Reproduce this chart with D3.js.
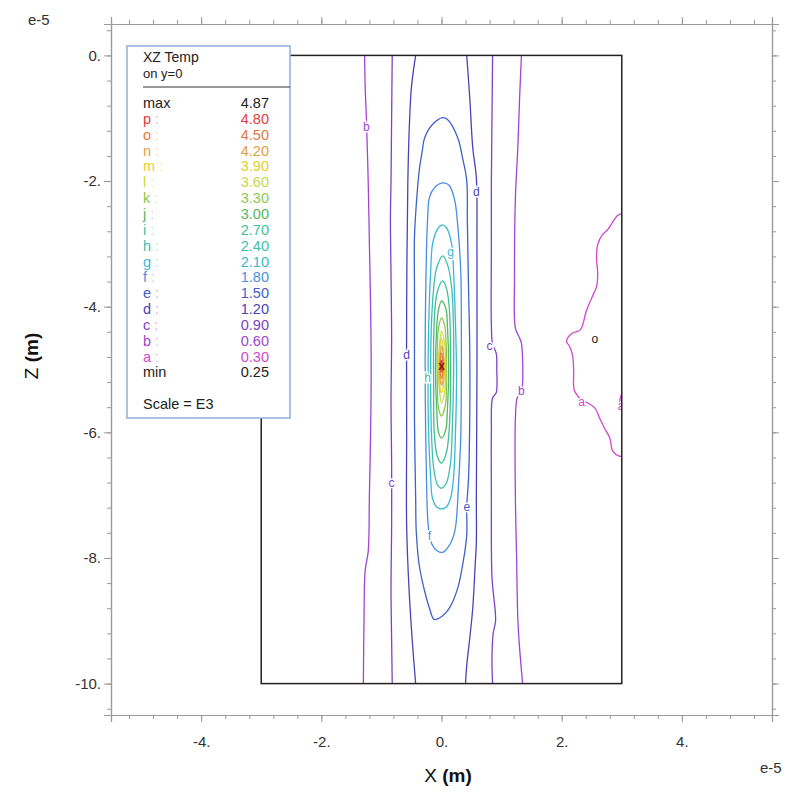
<!DOCTYPE html>
<html><head><meta charset="utf-8">
<script src="https://cdn.jsdelivr.net/npm/d3@7"></script>
<style>
body{margin:0;background:#fff}
text{font-family:"Liberation Sans",Arial,sans-serif}
</style>
</head><body>
<svg id="chart" width="787" height="803"></svg>
<script>
// ---------- data (x, z in units of e-5 m) ----------
const levelKeys   = ["p","o","n","m","l","k","j","i","h","g","f","e","d","c","b","a"];
const levelValues = [4.80,4.50,4.20,3.90,3.60,3.30,3.00,2.70,2.40,2.10,1.80,1.50,1.20,0.90,0.60,0.30];
const maxValue = 4.87, minValue = 0.25;
const xMajorTicks = [-4,-2,0,2,4];
const xTickLabels = ["-4.","-2.","0.","2.","4."];
const zMajorTicks = [0,-2,-4,-6,-8,-10];
const zTickLabels = ["0.","-2.","-4.","-6.","-8.","-10."];
const domainBox = [[-3,0],[3,-10]];

// open contour lines (a..d)
const bLeft  = [[-1.28,0],[-1.27,-0.5],[-1.25,-1],[-1.22,-2],[-1.20,-3],[-1.18,-4],[-1.17,-5],[-1.18,-6],[-1.20,-7],[-1.22,-7.9],[-1.27,-8.2],[-1.29,-9],[-1.30,-10]];
const cLeft  = [[-0.82,0],[-0.83,-1],[-0.84,-2],[-0.85,-2.6],[-0.84,-3.5],[-0.83,-4.5],[-0.84,-5.5],[-0.83,-6.5],[-0.83,-7.5],[-0.84,-8.5],[-0.83,-9.3],[-0.82,-10]];
const dLeft  = [[-0.43,0],[-0.50,-0.5],[-0.53,-1],[-0.56,-2],[-0.58,-4],[-0.58,-6],[-0.58,-7.5],[-0.54,-8.5],[-0.48,-9.4],[-0.43,-10]];
const dRight = [[0.42,0],[0.47,-0.67],[0.52,-1.47],[0.58,-1.95],[0.59,-3],[0.59,-5],[0.58,-7.05],[0.58,-7.74],[0.56,-8.12],[0.52,-8.8],[0.47,-9.28],[0.42,-9.71],[0.40,-10]];
const cRight = [[0.85,0],[0.84,-1],[0.83,-2],[0.83,-3],[0.83,-4.3],[0.85,-4.6],[0.91,-4.74],[0.92,-5.0],[0.91,-5.37],[0.85,-5.45],[0.83,-6],[0.83,-7],[0.84,-8.3],[0.90,-9.0],[0.86,-9.2],[0.84,-9.6],[0.85,-10]];
const bRight = [[1.33,0],[1.30,-0.67],[1.27,-1.47],[1.23,-2.26],[1.215,-3.54],[1.23,-4.34],[1.30,-4.5],[1.33,-4.58],[1.35,-5.21],[1.33,-5.34],[1.26,-5.45],[1.23,-5.77],[1.23,-7.05],[1.25,-8],[1.27,-8.96],[1.30,-9.44],[1.35,-10]];
const aMain  = [[3.0,-2.52],[2.93,-2.55],[2.76,-2.78],[2.68,-2.85],[2.60,-3.01],[2.58,-3.22],[2.60,-3.49],[2.58,-3.68],[2.50,-3.86],[2.41,-4.07],[2.31,-4.37],[2.18,-4.42],[2.08,-4.55],[2.13,-4.63],[2.18,-4.77],[2.20,-5.02],[2.21,-5.33],[2.33,-5.48],[2.43,-5.53],[2.55,-5.61],[2.63,-5.77],[2.71,-5.93],[2.80,-6.09],[2.85,-6.30],[2.96,-6.38],[3.0,-6.38]];
const aEdge  = [[3.0,-5.38],[2.97,-5.48],[2.98,-5.60],[3.0,-5.66]];

// closed contour loops (e..p)
const eLoop = [[0.02,-0.99],[0.10,-1.02],[0.27,-1.31],[0.35,-1.63],[0.42,-1.99],[0.43,-2.63],[0.45,-3.70],[0.47,-4.66],[0.47,-5.77],[0.45,-6.73],[0.42,-7.18],[0.42,-7.64],[0.35,-8.12],[0.27,-8.48],[0.13,-8.80],[0.02,-8.92],[-0.12,-8.98],[-0.20,-8.80],[-0.28,-8.53],[-0.37,-8.12],[-0.42,-7.58],[-0.43,-7.05],[-0.45,-5.77],[-0.45,-4.66],[-0.45,-3.70],[-0.45,-2.90],[-0.42,-2.38],[-0.37,-1.83],[-0.32,-1.52],[-0.28,-1.31],[-0.15,-1.10]];
const fLoop = [[0.02,-2.03],[0.13,-2.07],[0.22,-2.31],[0.27,-2.70],[0.32,-3.43],[0.33,-4.18],[0.33,-5.14],[0.32,-6.09],[0.28,-6.89],[0.25,-7.37],[0.22,-7.58],[0.13,-7.80],[0.02,-7.91],[-0.07,-7.89],[-0.15,-7.80],[-0.20,-7.64],[-0.23,-7.37],[-0.25,-6.73],[-0.27,-5.45],[-0.27,-4.34],[-0.25,-3.11],[-0.23,-2.58],[-0.20,-2.26],[-0.12,-2.11]];
const gLoop = [[0,-2.70],[0.08,-2.74],[0.17,-3.01],[0.20,-3.43],[0.23,-4.18],[0.25,-5.14],[0.23,-6.09],[0.20,-6.73],[0.15,-7.05],[0.08,-7.19],[0,-7.22],[-0.08,-7.19],[-0.15,-7.05],[-0.18,-6.73],[-0.22,-5.77],[-0.22,-4.66],[-0.20,-3.86],[-0.18,-3.43],[-0.15,-3.01],[-0.08,-2.79]];
const hLoop = [[0.02,-3.19],[0.10,-3.33],[0.17,-3.70],[0.20,-4.34],[0.20,-5.14],[0.18,-5.93],[0.15,-6.49],[0.08,-6.81],[0,-6.89],[-0.07,-6.83],[-0.13,-6.57],[-0.17,-5.93],[-0.18,-5.14],[-0.17,-4.34],[-0.13,-3.70],[-0.08,-3.38]];
const iLoop = [[0.02,-3.59],[0.08,-3.70],[0.13,-4.02],[0.15,-4.66],[0.15,-5.30],[0.13,-5.93],[0.08,-6.33],[0,-6.49],[-0.07,-6.38],[-0.12,-6.01],[-0.13,-5.30],[-0.13,-4.50],[-0.10,-3.94],[-0.05,-3.70]];
const jLoop = [[0,-3.91],[0.07,-4.02],[0.10,-4.34],[0.12,-4.98],[0.10,-5.61],[0.07,-5.96],[0,-6.09],[-0.05,-6.00],[-0.08,-5.61],[-0.10,-4.98],[-0.08,-4.34],[-0.05,-4.05]];
const kLoop = [[0,-4.18],[0.05,-4.29],[0.08,-4.66],[0.08,-5.14],[0.07,-5.53],[0,-5.74],[-0.05,-5.61],[-0.07,-5.14],[-0.07,-4.66],[-0.05,-4.34]];
const lLoop = [[0,-4.39],[0.05,-4.58],[0.07,-4.98],[0.05,-5.37],[0,-5.53],[-0.03,-5.37],[-0.05,-4.98],[-0.03,-4.58]];
const mLoop = [[0,-4.50],[0.03,-4.69],[0.05,-4.98],[0.03,-5.26],[0,-5.37],[-0.03,-5.26],[-0.04,-4.98],[-0.03,-4.69]];
const nLoop = [[0,-4.63],[0.03,-4.78],[0.03,-5.01],[0.02,-5.18],[0,-5.25],[-0.02,-5.17],[-0.03,-4.98],[-0.02,-4.78]];
const oLoop = [[0,-4.74],[0.02,-4.85],[0.02,-5.06],[0,-5.14],[-0.02,-5.06],[-0.02,-4.85]];
const pLoop = [[0,-4.85],[0.015,-4.94],[0,-5.04],[-0.015,-4.94]];

// in-line contour labels: [key, x, z]
const lineLabels = [["b",-1.25,-1.13],["d",0.58,-2.17],["g",0.15,-3.13],["d",-0.58,-4.77],["c",0.80,-4.63],["b",1.33,-5.34],["a",2.33,-5.52],["a",2.99,-5.57],["h",-0.23,-5.14],["c",-0.83,-6.81],["e",0.42,-7.18],["f",-0.20,-7.64]];
const minMarker = [2.55,-4.51];
const maxMarker = [0,-4.94];

// ---------- styles ----------
const levelColors = {p:"#e04040",o:"#e07a3c",n:"#e0a040",m:"#e2d02c",l:"#c4d84a",k:"#8cc850",j:"#54b85c",i:"#3ebf98",h:"#3cc0ac",g:"#38b8d6",f:"#4a8ee0",e:"#3e62c8",d:"#4a42b8",c:"#7a42c8",b:"#a044d6",a:"#d046d0"};

const contourTable = [
  {k:"a",pts:aMain,closed:false},{k:"a",pts:aEdge,closed:false},
  {k:"b",pts:bLeft,closed:false},{k:"b",pts:bRight,closed:false},
  {k:"c",pts:cLeft,closed:false},{k:"c",pts:cRight,closed:false},
  {k:"d",pts:dLeft,closed:false},{k:"d",pts:dRight,closed:false},
  {k:"e",pts:eLoop,closed:true},{k:"f",pts:fLoop,closed:true},{k:"g",pts:gLoop,closed:true},
  {k:"h",pts:hLoop,closed:true},{k:"i",pts:iLoop,closed:true},{k:"j",pts:jLoop,closed:true},
  {k:"k",pts:kLoop,closed:true},{k:"l",pts:lLoop,closed:true},{k:"m",pts:mLoop,closed:true},
  {k:"n",pts:nLoop,closed:true},{k:"o",pts:oLoop,closed:true},{k:"p",pts:pLoop,closed:true}
];

const svg = d3.select("#chart");
const x = d3.scaleLinear().domain([-5.5,5.5]).range([111,772]);
const y = d3.scaleLinear().domain([0.5,-10.5]).range([24,715]);

// frame axes
const axisColor = "#9a9a9a";
const xMinor = d3.range(-5.2,5.3,0.4).map(v=>+v.toFixed(2));
const zMinor = d3.range(0.4,-10.5,-0.4).map(v=>+v.toFixed(2));
function styleAxis(g){
  g.selectAll("path").attr("stroke",axisColor).attr("stroke-width",1.2);
  g.selectAll("line").attr("stroke",axisColor);
  g.selectAll("text").attr("fill","#333").style("font-size","15px");
}
// minor ticks
svg.append("g").attr("transform",`translate(0,${y(-10.5)})`).call(d3.axisBottom(x).tickValues(xMinor).tickSize(4).tickFormat("")).call(styleAxis);
svg.append("g").attr("transform",`translate(0,${y(0.5)})`).call(d3.axisTop(x).tickValues(xMinor).tickSize(4).tickFormat("")).call(styleAxis);
svg.append("g").attr("transform",`translate(${x(-5.5)},0)`).call(d3.axisLeft(y).tickValues(zMinor).tickSize(4).tickFormat("")).call(styleAxis);
svg.append("g").attr("transform",`translate(${x(5.5)},0)`).call(d3.axisRight(y).tickValues(zMinor).tickSize(4).tickFormat("")).call(styleAxis);
// major ticks
svg.append("g").attr("transform",`translate(0,${y(-10.5)})`).call(d3.axisBottom(x).tickValues(xMajorTicks).tickSize(7).tickPadding(14).tickFormat((d,i)=>xTickLabels[i])).call(styleAxis);
svg.append("g").attr("transform",`translate(0,${y(0.5)})`).call(d3.axisTop(x).tickValues(xMajorTicks).tickSize(7).tickFormat("")).call(styleAxis);
svg.append("g").attr("transform",`translate(${x(-5.5)},0)`).call(d3.axisLeft(y).tickValues(zMajorTicks).tickSize(7).tickPadding(3).tickFormat((d,i)=>zTickLabels[i])).call(styleAxis);
svg.append("g").attr("transform",`translate(${x(5.5)},0)`).call(d3.axisRight(y).tickValues(zMajorTicks).tickSize(7).tickFormat("")).call(styleAxis);

// exponent labels
svg.append("text").attr("x",28).attr("y",25).attr("fill","#333").style("font-size","15px").text("e-5");
svg.append("text").attr("x",760).attr("y",773).attr("fill","#333").style("font-size","15px").text("e-5");

// axis titles
const xt = svg.append("text").attr("x",448).attr("y",782).attr("text-anchor","middle").attr("fill","#111").style("font-size","19px");
xt.append("tspan").text("X ");
xt.append("tspan").attr("font-weight","bold").text("(m)");
const zt = svg.append("text").attr("transform",`translate(38,356) rotate(-90)`).attr("text-anchor","middle").attr("fill","#111").style("font-size","19px");
zt.append("tspan").text("Z ");
zt.append("tspan").attr("font-weight","bold").text("(m)");

// clip for contours
svg.append("clipPath").attr("id","dom").append("rect")
  .attr("x",x(domainBox[0][0])).attr("y",y(domainBox[0][1]))
  .attr("width",x(domainBox[1][0])-x(domainBox[0][0])).attr("height",y(domainBox[1][1])-y(domainBox[0][1]));

const openLine = d3.line().x(d=>x(d[0])).y(d=>y(d[1])).curve(d3.curveCatmullRom.alpha(0.5));
const closedLine = d3.line().x(d=>x(d[0])).y(d=>y(d[1])).curve(d3.curveCatmullRomClosed.alpha(0.5));

const cg = svg.append("g").attr("clip-path","url(#dom)");
cg.selectAll("path").data(contourTable).join("path")
  .attr("d",d=>(d.closed?closedLine:openLine)(d.pts))
  .attr("fill","none").attr("stroke",d=>levelColors[d.k]).attr("stroke-width",1.3);

// labels on lines
cg.selectAll("text.lbl").data(lineLabels).join("text").attr("class","lbl")
  .attr("x",d=>x(d[1])).attr("y",d=>y(d[2])).attr("dy","0.35em").attr("text-anchor","middle")
  .attr("fill",d=>levelColors[d[0]]).attr("stroke","#fff").attr("stroke-width",3).attr("paint-order","stroke")
  .style("font-size","12px").text(d=>d[0]);
cg.append("text").attr("x",x(minMarker[0])).attr("y",y(minMarker[1])).attr("dy","0.35em").attr("text-anchor","middle")
  .attr("fill","#222").style("font-size","12px").text("o");
cg.append("text").attr("x",x(maxMarker[0])).attr("y",y(maxMarker[1])).attr("dy","0.35em").attr("text-anchor","middle")
  .attr("fill","#8a1a10").style("font-size","12px").style("font-weight","bold").text("x");

// domain rectangle
svg.append("rect").attr("x",x(domainBox[0][0])).attr("y",y(domainBox[0][1]))
  .attr("width",x(domainBox[1][0])-x(domainBox[0][0])).attr("height",y(domainBox[1][1])-y(domainBox[0][1]))
  .attr("fill","none").attr("stroke","#222").attr("stroke-width",1.5);

// legend
const lg = svg.append("g");
lg.append("rect").attr("x",127).attr("y",46).attr("width",163).attr("height",372)
  .attr("fill","#fff").attr("stroke","#8fb0d6").attr("stroke-width",1.5);
lg.append("text").attr("x",143).attr("y",62).attr("fill","#222").style("font-size","14px").text("XZ Temp");
lg.append("text").attr("x",143).attr("y",78).attr("fill","#222").style("font-size","13px").text("on y=0");
lg.append("line").attr("x1",143).attr("x2",290).attr("y1",87).attr("y2",87).attr("stroke","#333").attr("stroke-width",1.2);
const rows = [{name:"max",val:maxValue,col:"#222"}]
  .concat(levelKeys.map((k,i)=>({name:k,val:levelValues[i],col:levelColors[k],lvl:true})))
  .concat([{name:"min",val:minValue,col:"#222"}]);
const fmt = d3.format(".2f");
const rowG = lg.selectAll("g.row").data(rows).join("g").attr("class","row")
  .attr("transform",(d,i)=>`translate(0,${108 + i*15.85})`);
rowG.append("text").attr("x",143).attr("fill",d=>d.col).style("font-size","14.5px")
  .each(function(d){
    const t = d3.select(this);
    t.append("tspan").text(d.name);
    if(d.lvl) t.append("tspan").attr("fill-opacity",0.45).text(" :");
  });
rowG.append("text").attr("x",269).attr("text-anchor","end").attr("fill",d=>d.col).style("font-size","14.5px").text(d=>fmt(d.val));
lg.append("text").attr("x",143).attr("y",409).attr("fill","#222").style("font-size","14.5px").text("Scale = E3");
</script>
</body></html>
